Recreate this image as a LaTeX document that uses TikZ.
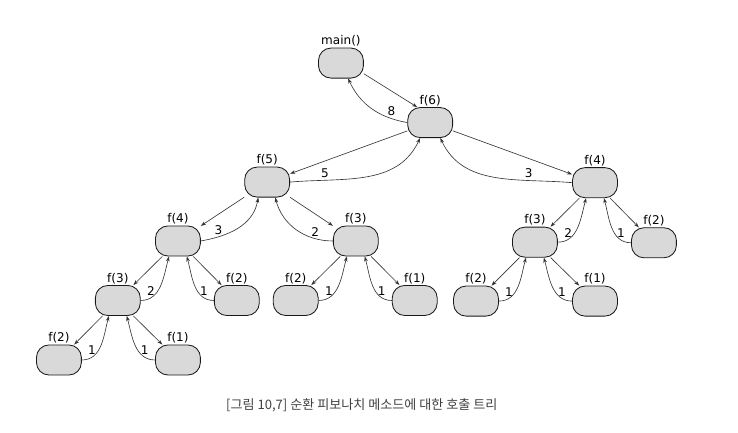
\documentclass[tikz,border=0pt]{standalone}
\usepackage{fontspec}
\setmainfont{DejaVu Sans}
\newfontfamily\krfont{Noto Sans CJK KR}
\usetikzlibrary{arrows.meta}

\begin{document}
\begin{tikzpicture}[x=2cm, y=2cm,
        appel/.style={draw=black!90, line width=0.8pt, fill=gray!30, rounded corners=0.42cm,
            minimum width=1.51cm, minimum height=1.01cm, inner sep=0pt},
        etiq/.style={font=\fontsize{11.5}{13}\selectfont, inner sep=1pt, label distance=0pt},
        aller/.style={draw=black!80, line width=0.6pt, -{Stealth[length=5pt, width=3.5pt]}},
        retour/.style={aller},
        nombre/.style={above, font=\fontsize{11.5}{13}\selectfont, inner sep=2pt}]
        \useasboundingbox (0,0) rectangle (12.403,-7.277);

        \node[appel, label={[etiq, name=tm]above:main()}] (m) at (5.73, -1.06) {};
        \node[appel, label={[etiq, name=t6]above:f(6)}] (f6) at (7.23, -2.06) {};
        \node[appel, label={[etiq, name=t5]above:f(5)}] (f5) at (4.49, -3.06) {};
        \node[appel, label={[etiq, name=t4a]above:f(4)}] (f4a) at (2.99, -4.05) {};
        \node[appel, label={[etiq, name=t4b]above:f(4)}] (f4b) at (10, -3.07) {};
        \node[appel, label={[etiq, name=t3a]above:f(3)}] (f3a) at (1.98, -5.05) {};
        \node[appel, label={[etiq, name=t3b]above:f(3)}] (f3b) at (5.98, -4.05) {};
        \node[appel, label={[etiq, name=t3c]above:f(3)}] (f3c) at (8.99, -4.07) {};
        \node[appel, label={[etiq, name=t2a]above:f(2)}] (f2a) at (0.99, -6.05) {};
        \node[appel, label={[etiq, name=t2b]above:f(2)}] (f2b) at (3.98, -5.05) {};
        \node[appel, label={[etiq, name=t2c]above:f(2)}] (f2c) at (4.97, -5.05) {};
        \node[appel, label={[etiq, name=t2d]above:f(2)}] (f2d) at (8, -5.06) {};
        \node[appel, label={[etiq, name=t2e]above:f(2)}] (f2e) at (10.99, -4.08) {};
        \node[appel, label={[etiq, name=t1a]above:f(1)}] (f1a) at (2.99, -6.05) {};
        \node[appel, label={[etiq, name=t1b]above:f(1)}] (f1b) at (6.97, -5.05) {};
        \node[appel, label={[etiq, name=t1c]above:f(1)}] (f1c) at (10, -5.06) {};

        \draw[aller] (m.-25) -- (f6.130);
        \draw[aller] (f6) -- (f5);
        \draw[aller] (f6) -- (f4b);
        \draw[aller] (f5) -- (f4a);
        \draw[aller] (f5) -- (f3b);
        \draw[aller] (f4a) -- (f3a);
        \draw[aller] (f4a) -- (f2b);
        \draw[aller] (f3a) -- (f2a);
        \draw[aller] (f3a) -- (f1a);
        \draw[aller] (f3b) -- (f2c);
        \draw[aller] (f3b) -- (f1b);
        \draw[aller] (f4b) -- (f3c);
        \draw[aller] (f4b) -- (f2e);
        \draw[aller] (f3c) -- (f2d);
        \draw[aller] (f3c) -- (f1c);

        \draw[retour] (f6.west) to[out=170, in=-65] node[nombre, pos=0.2] (r8) {8} ([xshift=0.24cm]m.south);
        \draw[retour] (f5.east) to[out=5, in=-115] node[nombre, pos=0.22] (r5) {5} ([xshift=-0.34cm]f6.south);
        \draw[retour] (f4b.west) to[out=175, in=-65] node[nombre, pos=0.27] (r3b) {3} ([xshift=0.34cm]f6.south);
        \draw[retour] (f4a.east) to[out=10, in=-100] node[nombre, pos=0.22] (r3a) {3} ([xshift=-0.3cm]f5.south);
        \draw[retour] (f3b.west) to[out=180, in=-75] node[nombre, pos=0.22] (r2b) {2} ([xshift=0.27cm]f5.south);
        \draw[retour] (f3a.east) to[out=0, in=-105] node[nombre, pos=0.2] (r2a) {2} ([xshift=-0.3cm]f4a.south);
        \draw[retour] (f2b.west) to[out=180, in=-75] node[nombre, pos=0.2] (r1b) {1} ([xshift=0.3cm]f4a.south);
        \draw[retour] (f2a.east) to[out=0, in=-105] node[nombre, pos=0.2] (r1a) {1} ([xshift=-0.3cm]f3a.south);
        \draw[retour] (f1a.west) to[out=180, in=-75] node[nombre, pos=0.2] (r1c) {1} ([xshift=0.3cm]f3a.south);
        \draw[retour] (f2c.east) to[out=0, in=-105] node[nombre, pos=0.2] (r1d) {1} ([xshift=-0.3cm]f3b.south);
        \draw[retour] (f1b.west) to[out=180, in=-75] node[nombre, pos=0.2] (r1e) {1} ([xshift=0.3cm]f3b.south);
        \draw[retour] (f3c.east) to[out=0, in=-105] node[nombre, pos=0.2] (r2c) {2} ([xshift=-0.3cm]f4b.south);
        \draw[retour] (f2e.west) to[out=180, in=-75] node[nombre, pos=0.2] (r1f) {1} ([xshift=0.3cm]f4b.south);
        \draw[retour] (f2d.east) to[out=0, in=-105] node[nombre, pos=0.2] (r1g) {1} ([xshift=-0.3cm]f3c.south);
        \draw[retour] (f1c.west) to[out=180, in=-75] node[nombre, pos=0.2] (r1h) {1} ([xshift=0.3cm]f3c.south);

        \node[text=black!75, font=\krfont\fontsize{12.5}{14}\selectfont] (legende) at (6.08, -6.81) {[그림 10,7] 순환 피보나치 메소드에 대한 호출 트리};
    \end{tikzpicture}
\end{document}
